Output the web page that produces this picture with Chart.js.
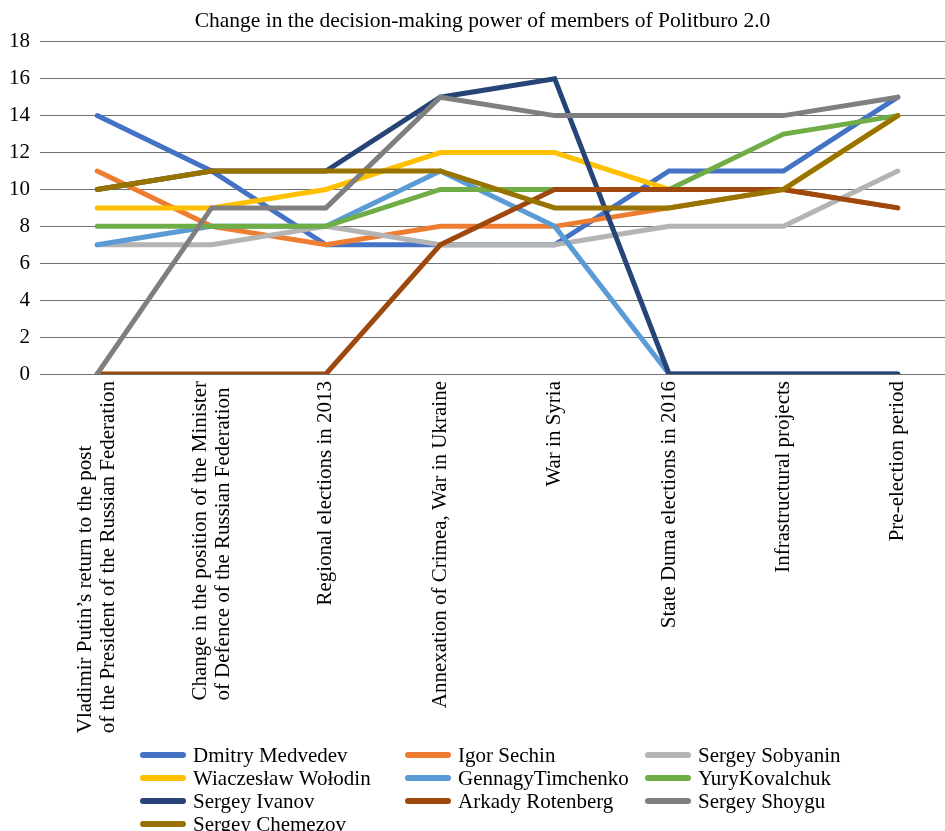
<!DOCTYPE html>
<html>
<head>
<meta charset="utf-8">
<script src="https://cdn.jsdelivr.net/npm/chart.js@4.4.1/dist/chart.umd.min.js"></script>
<style>
  html, body { margin: 0; padding: 0; background: #fff; overflow: hidden; width: 945px; height: 831px; }
  #wrap { width: 955px; height: 831px; }
</style>
</head>
<body>
<div id="wrap"><canvas id="c" width="955" height="831"></canvas></div>
<script>
const titleText = 'Change in the decision-making power of members of Politburo 2.0';
const categories = [
  ['Vladimir Putin\u2019s return to the post', 'of the President of the Russian Federation'],
  ['Change in the position of the Minister', 'of Defence of the Russian Federation'],
  ['Regional elections in 2013'],
  ['Annexation of Crimea, War in Ukraine'],
  ['War in Syria'],
  ['State Duma elections in 2016'],
  ['Infrastructural projects'],
  ['Pre-election period']
];
const yTicks = [0, 2, 4, 6, 8, 10, 12, 14, 16, 18];

const seriesNames = ['Dmitry Medvedev', 'Igor Sechin', 'Sergey Sobyanin', 'Wiaczesław Wołodin', 'GennagyTimchenko', 'YuryKovalchuk', 'Sergey Ivanov', 'Arkady Rotenberg', 'Sergey Shoygu', 'Sergey Chemezov'];
const medvedev   = [14, 11, 7, 7, 7, 11, 11, 15];
const sechin     = [11, 8, 7, 8, 8, 9, 10, 9];
const sobyanin   = [7, 7, 8, 7, 7, 8, 8, 11];
const wolodin    = [9, 9, 10, 12, 12, 10, 10, 14];
const timchenko  = [7, 8, 8, 11, 8, 0, 0, 0];
const kovalchuk  = [8, 8, 8, 10, 10, 10, 13, 14];
const ivanov     = [10, 11, 11, 15, 16, 0, 0, 0];
const rotenberg  = [0, 0, 0, 7, 10, 10, 10, 9];
const shoygu     = [0, 9, 9, 15, 14, 14, 14, 15];
const chemezov   = [10, 11, 11, 11, 9, 9, 10, 14];
const seriesValues = [medvedev, sechin, sobyanin, wolodin, timchenko, kovalchuk, ivanov, rotenberg, shoygu, chemezov];
const seriesColors = ['#4472C4', '#ED7D31', '#B4B4B4', '#FFC000', '#5B9BD5', '#70AD47', '#264478', '#9E480E', '#7F7F7F', '#997300'];

const FONT = '"Liberation Serif", "Times New Roman", serif';

const datasets = seriesNames.map((name, i) => ({
  label: name,
  data: seriesValues[i],
  borderColor: seriesColors[i],
  backgroundColor: seriesColors[i],
  borderWidth: 5,
  pointRadius: 0,
  pointHoverRadius: 0,
  tension: 0,
  fill: false,
  borderCapStyle: 'round',
  order: seriesNames.length - i
}));

const xLabelPlugin = {
  id: 'xLabels',
  afterDraw(chart) {
    const ctx = chart.ctx;
    const xs = chart.scales.x;
    const bottom = chart.chartArea.bottom;
    const lh = 23;
    ctx.save();
    ctx.font = '21px ' + FONT;
    ctx.fillStyle = '#000';
    ctx.textAlign = 'left';
    ctx.textBaseline = 'middle';
    categories.forEach((lines, i) => {
      const x = xs.getPixelForValue(i);
      const maxW = Math.max(...lines.map(l => ctx.measureText(l).width));
      const anchorY = bottom + 7 + maxW;
      lines.forEach((line, j) => {
        const lx = x + (j - (lines.length - 1) / 2) * lh;
        ctx.save();
        ctx.translate(lx, anchorY);
        ctx.rotate(-Math.PI / 2);
        ctx.fillText(line, 0, 0);
        ctx.restore();
      });
    });
    ctx.restore();
  }
};

const legendPlugin = {
  id: 'gridLegend',
  afterDraw(chart) {
    const ctx = chart.ctx;
    const colX = [140, 405, 645];
    const rowY0 = 755, rowH = 23, markW = 46, gap = 7;
    ctx.save();
    ctx.font = '21px ' + FONT;
    ctx.textAlign = 'left';
    ctx.textBaseline = 'middle';
    seriesNames.forEach((name, i) => {
      const col = i % 3, row = Math.floor(i / 3);
      const x = colX[col], y = rowY0 + row * rowH;
      ctx.strokeStyle = seriesColors[i];
      ctx.lineWidth = 6;
      ctx.lineCap = 'round';
      ctx.beginPath();
      ctx.moveTo(x + 3, y);
      ctx.lineTo(x + markW - 3, y);
      ctx.stroke();
      ctx.fillStyle = '#000';
      ctx.fillText(name, x + markW + gap, y + 1);
    });
    ctx.restore();
  }
};

new Chart(document.getElementById('c'), {
  type: 'line',
  data: { labels: categories.map(c => c.join(' ')), datasets },
  options: {
    responsive: false,
    animation: false,
    devicePixelRatio: 1,
    layout: { padding: { left: 10, right: 0, top: 0, bottom: 0 } },
    plugins: {
      legend: { display: false },
      tooltip: { enabled: false },
      title: {
        display: true,
        text: titleText,
        color: '#000',
        font: { family: FONT, size: 21.5, weight: 'normal', lineHeight: 1.2 },
        padding: { top: 8, bottom: 8 }
      }
    },
    scales: {
      x: {
        type: 'category',
        offset: true,
        grid: { display: false, drawTicks: false },
        border: { display: false },
        ticks: { display: false },
        afterFit(scale) { scale.height = 831 - 374; }
      },
      y: {
        min: 0,
        max: 18,
        afterBuildTicks(scale) { scale.ticks = yTicks.map(v => ({ value: v })); },
        grid: { color: '#6f6f6f', lineWidth: 1, drawTicks: false },
        border: { display: false },
        ticks: {
          color: '#000',
          padding: 10,
          font: { family: FONT, size: 21 }
        },
        afterFit(scale) { scale.width = 30; }
      }
    }
  },
  plugins: [xLabelPlugin, legendPlugin]
});
</script>
</body>
</html>
